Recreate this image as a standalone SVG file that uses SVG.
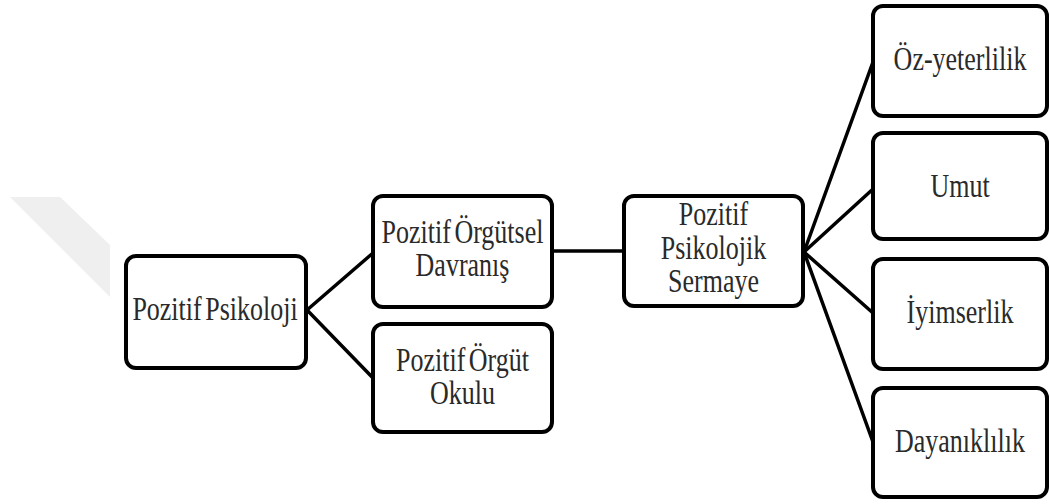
<svg xmlns="http://www.w3.org/2000/svg" width="1049" height="504" viewBox="0 0 1049 504">
<style>
.box{fill:#fff;stroke:#000;stroke-width:4}
.lbl{font-family:"Liberation Serif","Times New Roman",serif;font-size:26px;fill:#2a2a2a;text-anchor:middle;word-spacing:-3px}
.conn{stroke:#000;stroke-width:3.5;fill:none;stroke-linecap:round}
</style>
<rect width="1049" height="504" fill="#fff"/>
<polygon points="10,197 60,197 110,245 110,297" fill="#efefef"/>
<g id="connectors">
<line class="conn" x1="307" y1="310" x2="373" y2="253"/>
<line class="conn" x1="307" y1="310" x2="373" y2="378"/>
<line class="conn" x1="552" y1="251" x2="624" y2="251"/>
<line class="conn" x1="804" y1="252" x2="873" y2="62"/>
<line class="conn" x1="804" y1="252" x2="873" y2="189"/>
<line class="conn" x1="804" y1="252" x2="873" y2="313"/>
<line class="conn" x1="804" y1="252" x2="873" y2="442"/>
</g>
<g id="pozitif-psikoloji">
<rect class="box" x="126" y="256" width="180" height="112" rx="10"/>
<text class="lbl" transform="translate(215,320) scale(1,1.26)">Pozitif Psikoloji</text>
</g>
<g id="pozitif-orgutsel-davranis">
<rect class="box" x="373" y="196" width="179" height="111" rx="10"/>
<text class="lbl" transform="translate(462.5,243) scale(1,1.26)">Pozitif Örgütsel</text>
<text class="lbl" transform="translate(462.5,276) scale(1,1.26)">Davranış</text>
</g>
<g id="pozitif-orgut-okulu">
<rect class="box" x="373" y="324" width="179" height="108" rx="10"/>
<text class="lbl" transform="translate(462.5,371) scale(1,1.26)">Pozitif Örgüt</text>
<text class="lbl" transform="translate(462.5,404) scale(1,1.26)">Okulu</text>
</g>
<g id="pozitif-psikolojik-sermaye">
<rect class="box" x="624" y="196" width="179" height="110" rx="10"/>
<text class="lbl" transform="translate(713.5,225) scale(1,1.26)">Pozitif</text>
<text class="lbl" transform="translate(713.5,259) scale(1,1.26)">Psikolojik</text>
<text class="lbl" transform="translate(713.5,292) scale(1,1.26)">Sermaye</text>
</g>
<g id="oz-yeterlilik">
<rect class="box" x="873" y="6" width="174" height="110" rx="10"/>
<text class="lbl" transform="translate(960,70) scale(1,1.26)">Öz-yeterlilik</text>
</g>
<g id="umut">
<rect class="box" x="873" y="133" width="174" height="106" rx="10"/>
<text class="lbl" transform="translate(960,197) scale(1,1.26)">Umut</text>
</g>
<g id="iyimserlik">
<rect class="box" x="873" y="259" width="174" height="110" rx="10"/>
<text class="lbl" transform="translate(960,323) scale(1,1.26)">İyimserlik</text>
</g>
<g id="dayaniklilik">
<rect class="box" x="873" y="388" width="174" height="109" rx="10"/>
<text class="lbl" transform="translate(960,452) scale(1,1.26)">Dayanıklılık</text>
</g>
</svg>
